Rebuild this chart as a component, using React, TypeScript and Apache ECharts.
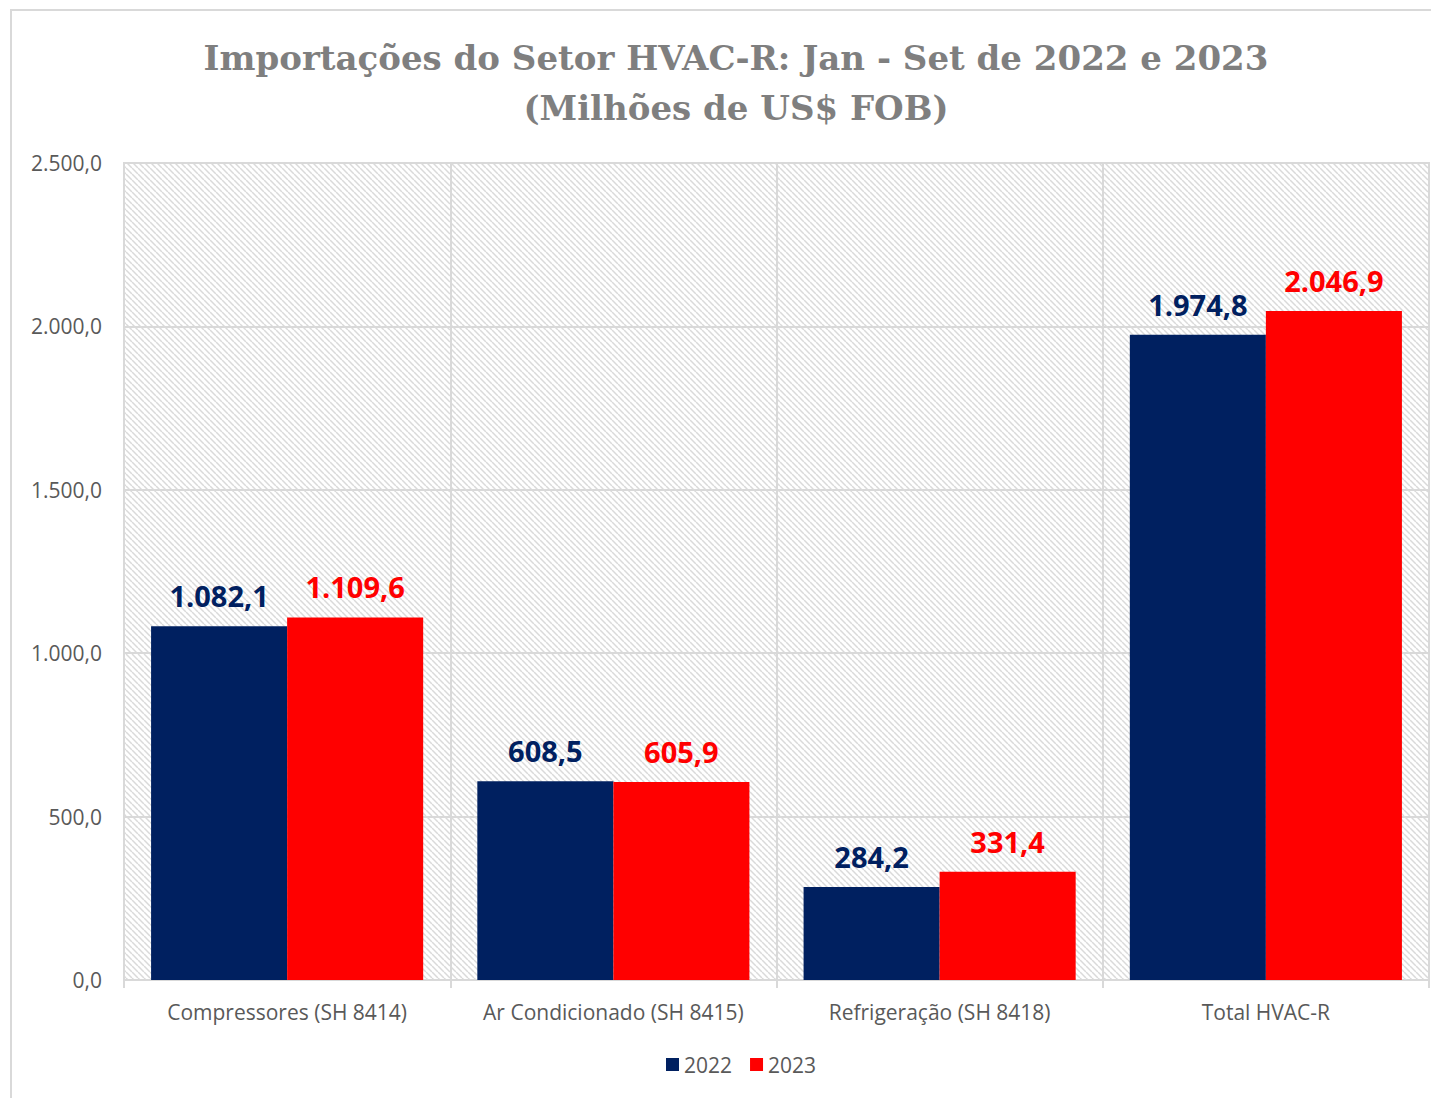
import React, { useEffect, useRef } from "react";
import * as echarts from "echarts";

const categories = [
  "Compressores (SH 8414)",
  "Ar Condicionado (SH 8415)",
  "Refrigeração (SH 8418)",
  "Total HVAC-R",
];
const values2022 = [1082.1, 608.5, 284.2, 1974.8];
const values2023 = [1109.6, 605.9, 331.4, 2046.9];
const seriesNames = ["2022", "2023"];
const titleText = "Importações do Setor HVAC-R: Jan - Set de 2022 e 2023\n(Milhões de US$ FOB)";

const fmt = (v: number) =>
  v.toLocaleString("pt-BR", { minimumFractionDigits: 1, maximumFractionDigits: 1 });

function makeHatch() {
  const c = document.createElement("canvas");
  c.width = 6;
  c.height = 6;
  const ctx = c.getContext("2d")!;
  ctx.fillStyle = "#ffffff";
  ctx.fillRect(0, 0, 6, 6);
  ctx.strokeStyle = "#dadada";
  ctx.lineWidth = 1.5;
  for (const x0 of [-6, 0, 6]) {
    ctx.beginPath();
    ctx.moveTo(x0, 0);
    ctx.lineTo(x0 + 6, 6);
    ctx.stroke();
  }
  return c;
}

export default function App() {
  const ref = useRef<HTMLDivElement>(null);
  useEffect(() => {
    const chart = echarts.init(ref.current!, null, { renderer: "svg" });
    const font = "'Open Sans', sans-serif";
    const hatch = makeHatch();
    const labelStyle = (color: string) => ({
      show: true,
      position: "top",
      distance: 16,
      fontFamily: font,
      fontWeight: "bold",
      fontSize: 29,
      color,
      formatter: (p: any) => fmt(p.value),
    });
    chart.setOption({
      animation: false,
      backgroundColor: "#ffffff",
      title: {
        text: titleText,
        left: 731,
        top: 28,
        textAlign: "center",
        textStyle: {
          fontFamily: "'DejaVu Serif', serif",
          fontWeight: "bold",
          fontSize: 34,
          lineHeight: 50,
          color: "#7f7f7f",
        },
      },
      graphic: [
        {
          type: "rect",
          shape: { x: 11, y: 10, width: 1440, height: 1100 },
          style: { fill: "none", stroke: "#d9d9d9", lineWidth: 2 },
          silent: true,
          z: -1,
        },
      ],
      legend: {
        data: seriesNames,
        left: 661,
        top: 1049,
        itemWidth: 13,
        itemHeight: 13,
        itemGap: 18,
        icon: "rect",
        textStyle: { fontFamily: font, fontSize: 21, color: "#595959" },
      },
      grid: {
        left: 124,
        right: 2,
        top: 163,
        bottom: 118,
        show: true,
        borderColor: "#d9d9d9",
        borderWidth: 2,
        backgroundColor: {
          image: hatch,
          repeat: "repeat",
          imageWidth: 6,
          imageHeight: 6,
        },
      },
      xAxis: {
        type: "category",
        data: categories,
        axisLine: { show: true, lineStyle: { color: "#d9d9d9", width: 2 } },
        axisTick: { show: true, length: 8, interval: 0, lineStyle: { color: "#d9d9d9", width: 2 } },
        splitLine: { show: true, interval: 0, lineStyle: { color: "#d9d9d9", width: 2 } },
        axisLabel: {
          interval: 0,
          margin: 21,
          fontFamily: font,
          fontSize: 21,
          color: "#595959",
        },
      },
      yAxis: {
        type: "value",
        min: 0,
        max: 2500,
        interval: 500,
        axisLine: { show: false },
        axisTick: { show: false },
        splitLine: { show: true, lineStyle: { color: "#d9d9d9", width: 2 } },
        axisLabel: {
          margin: 22,
          fontFamily: font,
          fontSize: 21,
          color: "#595959",
          formatter: (v: number) => fmt(v),
        },
      },
      series: [
        {
          name: seriesNames[0],
          type: "bar",
          data: values2022,
          barGap: "0%",
          barCategoryGap: "16.6%",
          itemStyle: { color: "#002060" },
          label: labelStyle("#002060"),
        },
        {
          name: seriesNames[1],
          type: "bar",
          data: values2023,
          barGap: "0%",
          barCategoryGap: "16.6%",
          itemStyle: { color: "#ff0000" },
          label: labelStyle("#ff0000"),
        },
      ],
    });
    return () => chart.dispose();
  }, []);
  return (
    <div
      ref={ref}
      style={{ position: "absolute", left: 0, top: 0, width: 1431, height: 1098 }}
    />
  );
}
